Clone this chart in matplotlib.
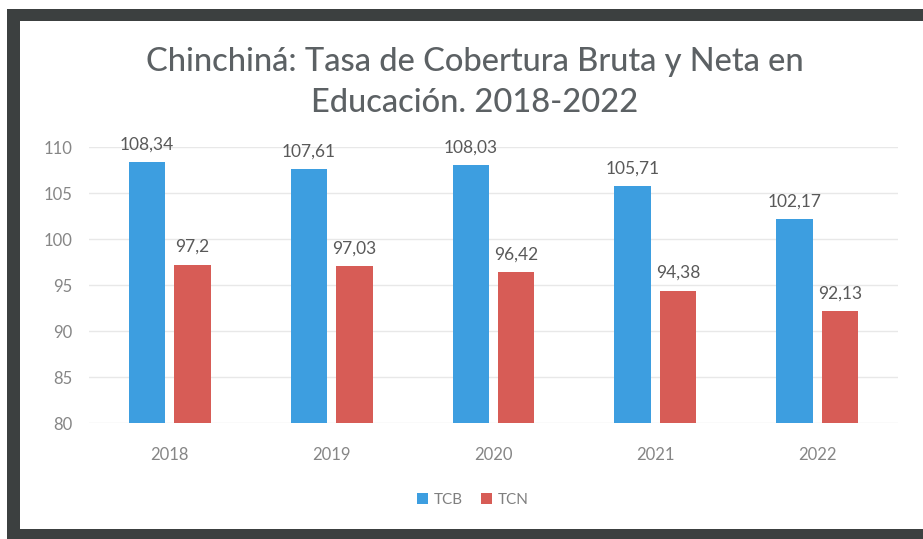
import numpy as np
import matplotlib.pyplot as plt
from matplotlib.patches import Rectangle

# datos
years = ['2018', '2019', '2020', '2021', '2022']
tcb = [108.34, 107.61, 108.03, 105.71, 102.17]
tcn = [97.2, 97.03, 96.42, 94.38, 92.13]
yticks = [80, 85, 90, 95, 100, 105, 110]

plt.rcParams['font.family'] = ['Lato', 'DejaVu Sans']

W, H = 923, 539
fig = plt.figure(figsize=(W / 100, H / 100), dpi=100)
fig.patch.set_facecolor('white')

# marco oscuro (foto de la diapositiva)
frame_col = '#3c4040'
fig.add_artist(Rectangle((7 / W, 1 - 21 / H), 1, 12 / H, transform=fig.transFigure,
                         color=frame_col, lw=0))
fig.add_artist(Rectangle((7 / W, 0), 13 / W, 1 - 9 / H, transform=fig.transFigure,
                         color=frame_col, lw=0))
fig.add_artist(Rectangle((7 / W, 0), 1, 10 / H, transform=fig.transFigure,
                         color=frame_col, lw=0))

ax = fig.add_axes([89 / W, 1 - 423 / H, 809 / W, 276 / H])
x = np.arange(len(years))
w = 0.225
off = 0.14
blue = '#3d9ee0'
red = '#d75c56'
b1 = ax.bar(x - off, tcb, w, color=blue, label='TCB', zorder=3)
b2 = ax.bar(x + off, tcn, w, color=red, label='TCN', zorder=3)

ax.set_ylim(80, 110)
ax.set_xlim(-0.5, len(years) - 0.5)
ax.set_yticks(yticks)
ax.set_xticks(x)
ax.set_xticklabels(years)
ax.grid(axis='y', color='#e8e8e8', lw=1, zorder=0)
for s in ax.spines.values():
    s.set_visible(False)
ax.tick_params(axis='both', length=0, colors='#868686', labelsize=12)
ax.tick_params(axis='x', pad=17)
ax.tick_params(axis='y', pad=12)

def fmt(v):
    return ('%g' % v).replace('.', ',')

for xi, v in zip(x, tcb):
    ax.annotate(fmt(v), (xi - off, v), xytext=(0, 7), textcoords='offset points',
                ha='center', va='bottom', fontsize=12.5, color='#595959', clip_on=False)
for xi, v in zip(x, tcn):
    ax.annotate(fmt(v), (xi + off, v), xytext=(0, 7), textcoords='offset points',
                ha='center', va='bottom', fontsize=12.5, color='#595959', clip_on=False)

fig.text(475 / W, 1 - 62 / H, 'Chinchiná: Tasa de Cobertura Bruta y Neta en',
         ha='center', va='center', fontsize=23.5, fontweight='medium', color='#5c6164')
fig.text(475 / W, 1 - 103 / H, 'Educación. 2018-2022',
         ha='center', va='center', fontsize=23.5, fontweight='medium', color='#5c6164')

fig.legend(handles=[b1, b2], loc='center', bbox_to_anchor=(473 / W, 1 - 500 / H),
           ncol=2, frameon=False, fontsize=11, handlelength=0.7, handleheight=0.7,
           handletextpad=0.4, columnspacing=1.2, labelcolor='#7f7f7f')

fig.savefig('out.png', dpi=100)
